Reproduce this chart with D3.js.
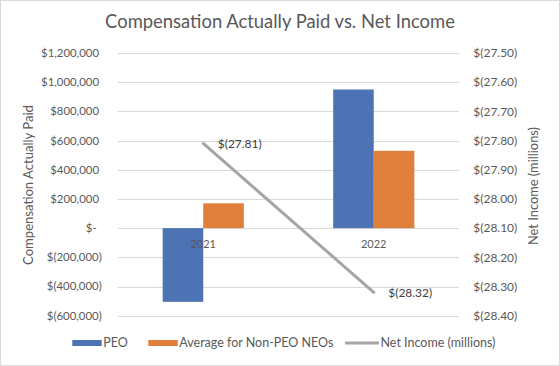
<!DOCTYPE html>
<html><head><meta charset="utf-8">
<script src="https://cdn.jsdelivr.net/npm/d3@7"></script>
<style>html,body{margin:0;padding:0;background:#fff;}svg{display:block;font-family:Lato,"Noto Sans",sans-serif;}</style>
</head><body>
<svg id="c" width="560" height="366"></svg>
<script>
const categories = ["2021", "2022"];
const peo = [-505000, 950000];
const nonPeo = [170000, 530000];
const netIncome = [-27.81, -28.32];
const netIncomeLabels = ["$(27.81)", "$(28.32)"];
const leftTicks = [-600000, -400000, -200000, 0, 200000, 400000, 600000, 800000, 1000000, 1200000];
const leftTickLabels = ["$(600,000)", "$(400,000)", "$(200,000)", "$-", "$200,000", "$400,000", "$600,000", "$800,000", "$1,000,000", "$1,200,000"];
const rightTicks = [-28.4, -28.3, -28.2, -28.1, -28.0, -27.9, -27.8, -27.7, -27.6, -27.5];
const rightTickLabels = ["$(28.40)", "$(28.30)", "$(28.20)", "$(28.10)", "$(28.00)", "$(27.90)", "$(27.80)", "$(27.70)", "$(27.60)", "$(27.50)"];
const seriesNames = ["PEO", "Average for Non-PEO NEOs", "Net Income (millions)"];
const colors = ["#4e73b4", "#e07f3c", "#a5a5a5"];

(function () {
const svg = d3.select("#c");
svg.append("rect").attr("x",0.5).attr("y",0.5).attr("width",559).attr("height",365).attr("fill","#fff").attr("stroke","#d9d9d9");

// font size that makes a sample string reach a target width
function fitSize(sample, target) {
  const t = svg.append("text").attr("font-size", 100).text(sample);
  const w = t.node().getComputedTextLength();
  t.remove();
  return 100 * target / w;
}
const fsTick = fitSize("$1,200,000", 58);
const fsRight = fitSize("$(27.50)", 44);
const fsCat = fitSize("2021", 25.5);
const fsData = fitSize("$(27.81)", 44);
const fsTitle = fitSize("Compensation Actually Paid vs. Net Income", 350);
const fsAxL = fitSize("Compensation Actually Paid", 160);
const fsAxR = fitSize("Net Income (millions)", 118);
const fsLeg = fitSize("Net Income (millions)", 115);

const pTop = 53, pBottom = 315.7, pLeft = 118, pRight = 459;
const y = d3.scaleLinear().domain([-600000, 1200000]).range([pBottom, pTop]);
const y2 = d3.scaleLinear().domain([-28.4, -27.5]).range([pBottom, pTop]);
const x = d3.scaleBand().domain(categories).range([pLeft, pRight]).paddingInner(0).paddingOuter(0);
const bw = x.bandwidth() * 0.238;

// gridlines
svg.append("g").selectAll("line").data(leftTicks).join("line")
  .attr("x1", pLeft).attr("x2", pRight)
  .attr("y1", d => Math.round(y(d)) + 0.5).attr("y2", d => Math.round(y(d)) + 0.5)
  .attr("stroke", "#d9d9d9").attr("stroke-width", 1);

// left tick labels
svg.append("g").selectAll("text").data(leftTicks).join("text")
  .attr("x", 101.7).attr("y", d => y(d)).attr("dy", "0.35em")
  .attr("dx", (d, i) => leftTickLabels[i].endsWith(")") ? 0 : (leftTickLabels[i] === "$-" ? -5 : -2.7))
  .attr("text-anchor", "end").attr("font-size", fsTick).attr("fill", "#595959")
  .text((d, i) => leftTickLabels[i]);

// right tick labels
svg.append("g").selectAll("text").data(rightTicks).join("text")
  .attr("x", 473.3).attr("y", d => y2(d)).attr("dy", "0.35em")
  .attr("text-anchor", "start").attr("font-size", fsRight).attr("fill", "#595959")
  .text((d, i) => rightTickLabels[i]);

// bars
const g = svg.append("g");
const groupOffset = (x.bandwidth() - 2 * bw) / 2;
g.selectAll(".peo").data(categories).join("rect")
  .attr("x", d => x(d) + groupOffset).attr("width", bw)
  .attr("y", (d, i) => y(Math.max(0, peo[i]))).attr("height", (d, i) => Math.abs(y(peo[i]) - y(0)))
  .attr("fill", colors[0]);
g.selectAll(".np").data(categories).join("rect")
  .attr("x", d => x(d) + groupOffset + bw).attr("width", bw)
  .attr("y", (d, i) => y(Math.max(0, nonPeo[i]))).attr("height", (d, i) => Math.abs(y(nonPeo[i]) - y(0)))
  .attr("fill", colors[1]);

// category labels
svg.append("g").selectAll("text").data(categories).join("text")
  .attr("x", d => x(d) + x.bandwidth() / 2).attr("y", y(0) + 20.3)
  .attr("text-anchor", "middle").attr("font-size", fsCat).attr("fill", "#595959").text(d => d);

// line
const line = d3.line().x((d, i) => x(categories[i]) + x.bandwidth() / 2).y(d => y2(d));
svg.append("path").datum(netIncome).attr("d", line).attr("fill", "none")
  .attr("stroke", colors[2]).attr("stroke-width", 3).attr("stroke-linecap", "round");
svg.append("g").selectAll("text").data(netIncome).join("text")
  .attr("x", (d, i) => x(categories[i]) + x.bandwidth() / 2 + 14.5).attr("y", d => y2(d)).attr("dy", "0.35em")
  .attr("font-size", fsData).attr("fill", "#404040").text((d, i) => netIncomeLabels[i]);

// title
svg.append("text").attr("x", 280).attr("y", 28.3).attr("text-anchor", "middle")
  .attr("font-size", fsTitle).attr("fill", "#595959").text("Compensation Actually Paid vs. Net Income");

// axis titles
svg.append("text").attr("transform", `translate(28,185) rotate(-90)`)
  .attr("dy", "0.35em").attr("text-anchor", "middle").attr("font-size", fsAxL).attr("fill", "#595959")
  .text("Compensation Actually Paid");
svg.append("text").attr("transform", `translate(533,186) rotate(-90)`)
  .attr("dy", "0.35em").attr("text-anchor", "middle").attr("font-size", fsAxR).attr("fill", "#595959")
  .text("Net Income (millions)");

// legend
const legendX = [72.3, 148.3, 345];
const ly = 343;
const lg = svg.append("g");
seriesNames.forEach((name, i) => {
  if (i < 2) {
    lg.append("rect").attr("x", legendX[i]).attr("y", ly - 3).attr("width", 29.4).attr("height", 6).attr("fill", colors[i]);
  } else {
    lg.append("line").attr("x1", legendX[i]).attr("x2", legendX[i] + 34).attr("y1", ly).attr("y2", ly)
      .attr("stroke", colors[i]).attr("stroke-width", 3);
  }
  lg.append("text").attr("x", legendX[i] + (i < 2 ? 31 : 35.5)).attr("y", ly).attr("dy", "0.35em")
    .attr("font-size", fsLeg).attr("fill", "#595959").text(name);
});
})();
</script>
</body></html>
